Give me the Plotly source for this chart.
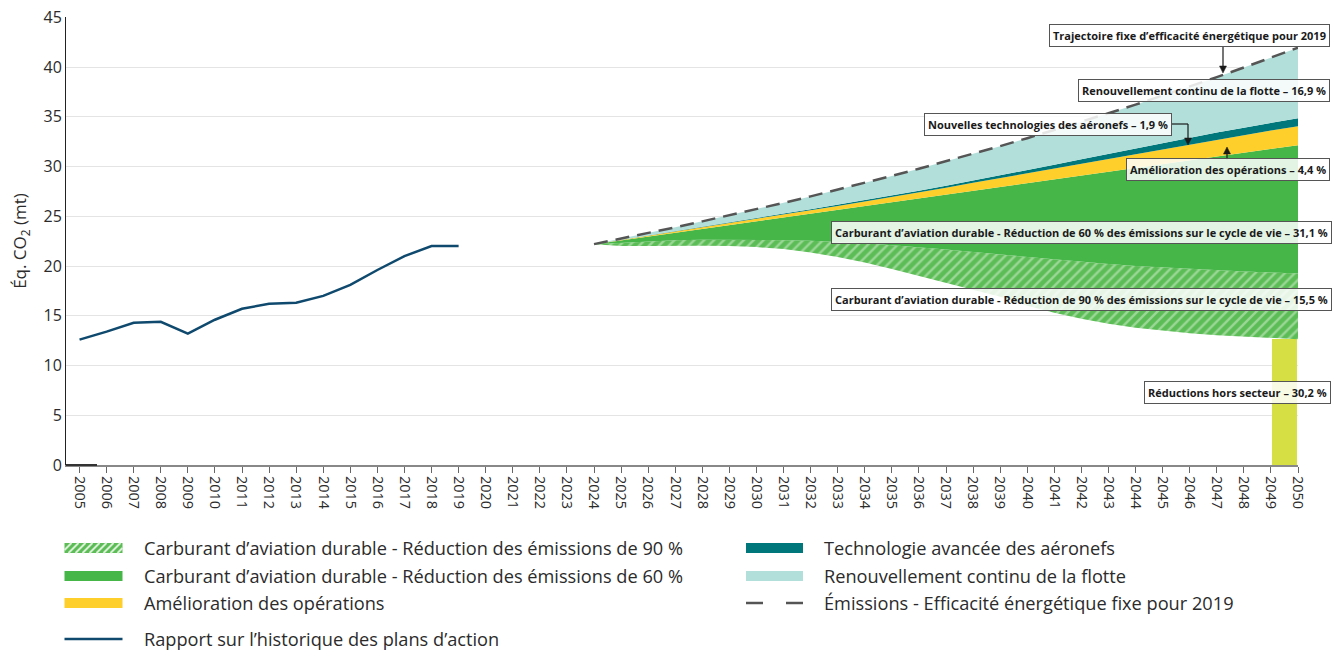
import plotly.graph_objects as go

# ---------------- data ----------------
hist_years = list(range(2005, 2020))
hist_values = [12.6, 13.4, 14.3, 14.4, 13.2, 14.6, 15.7, 16.2, 16.3, 17.0,
               18.1, 19.6, 21.0, 22.0, 22.0]

proj_years = list(range(2024, 2051))
net_emissions = [22.2, 22.0, 22.0, 22.05, 22.05, 22.0, 21.9, 21.7, 21.35, 20.9,
                 20.35, 19.7, 19.0, 18.3, 17.6, 16.9, 16.0, 15.3, 14.7, 14.2,
                 13.8, 13.5, 13.25, 13.05, 12.9, 12.75, 12.65]
saf90_top = [22.2, 22.35, 22.5, 22.6, 22.65, 22.65, 22.65, 22.6, 22.55, 22.45,
             22.3, 22.1, 21.9, 21.65, 21.4, 21.15, 20.9, 20.65, 20.4, 20.2,
             20.0, 19.85, 19.7, 19.55, 19.45, 19.35, 19.25]
saf60_top = [22.2, 22.58, 22.97, 23.35, 23.73, 24.11, 24.5, 24.88, 25.26, 25.64,
             26.03, 26.41, 26.79, 27.17, 27.56, 27.94, 28.32, 28.71, 29.09, 29.47,
             29.85, 30.24, 30.62, 31.0, 31.38, 31.77, 32.15]
ops_top = [22.2, 22.62, 23.05, 23.47, 23.89, 24.31, 24.75, 25.18, 25.61, 26.04,
           26.48, 26.93, 27.39, 27.87, 28.36, 28.84, 29.32, 29.81, 30.29, 30.77,
           31.25, 31.74, 32.22, 32.7, 33.16, 33.62, 34.05]
tech_top = [22.2, 22.63, 23.07, 23.5, 23.94, 24.37, 24.83, 25.27, 25.71, 26.16,
            26.61, 27.08, 27.56, 28.07, 28.58, 29.09, 29.62, 30.17, 30.72, 31.27,
            31.81, 32.36, 32.9, 33.42, 33.91, 34.4, 34.85]
baseline_2019 = [22.2, 22.75, 23.32, 23.89, 24.49, 25.09, 25.72, 26.35, 27.0, 27.67,
                 28.36, 29.06, 29.78, 30.52, 31.28, 32.05, 32.85, 33.66, 34.49, 35.35,
                 36.22, 37.12, 38.04, 38.98, 39.95, 40.94, 41.95]

offsector_years = [2050]
offsector_values = [12.65]

tick_years = list(range(2005, 2051))
tick_labels = [str(y) for y in tick_years]
y_ticks = [0, 5, 10, 15, 20, 25, 30, 35, 40, 45]

legend_left = [
    "Carburant d’aviation durable - Réduction des émissions de 90 %",
    "Carburant d’aviation durable - Réduction des émissions de 60 %",
    "Amélioration des opérations",
    "Rapport sur l’historique des plans d’action",
]
legend_right = [
    "Technologie avancée des aéronefs",
    "Renouvellement continu de la flotte",
    "Émissions - Efficacité énergétique fixe pour 2019",
]

# ---------------- style ----------------
FONT = "Open Sans"
C_GREEN = "#47b649"
C_HATCH_BG = "#5cbd56"
C_HATCH_FG = "#d9f0d6"
C_YELLOW = "#fece2b"
C_TEAL = "#00777a"
C_LTEAL = "#b3dfda"
C_BAR = "#d6df43"
C_HIST = "#0f4a6e"
C_DASH = "#555555"
C_TEXT = "#2b2b2b"
C_ARROW = "#1a1a1a"

# page body margin is removed by the post script, so page pixels = figure pixels
W, H = 1336, 653
PL, PR, PT, PB = 66, 1298, 17, 465      # plot area in page pixels
XR = (2004.5, 2050.0)
YR = (0, 45.03)


def PX(px):
    return (px - PL) / (PR - PL)


def PY(py):
    return (PB - py) / (PB - PT)


fig = go.Figure()

# invisible base (net emissions)
fig.add_trace(go.Scatter(x=proj_years, y=net_emissions, mode="lines",
                         line=dict(width=0, color="rgba(0,0,0,0)"),
                         showlegend=False, hoverinfo="skip"))
fig.add_trace(go.Scatter(x=proj_years, y=saf90_top, mode="lines", fill="tonexty",
                         line=dict(width=0, color=C_HATCH_BG),
                         fillcolor=C_HATCH_BG,
                         fillpattern=dict(shape="/", bgcolor=C_HATCH_BG, fgcolor=C_HATCH_FG,
                                          size=7, solidity=0.35),
                         showlegend=False, hoverinfo="skip"))
fig.add_trace(go.Scatter(x=proj_years, y=saf60_top, mode="lines", fill="tonexty",
                         line=dict(width=0, color=C_GREEN), fillcolor=C_GREEN,
                         showlegend=False, hoverinfo="skip"))
fig.add_trace(go.Scatter(x=proj_years, y=ops_top, mode="lines", fill="tonexty",
                         line=dict(width=0, color=C_YELLOW), fillcolor=C_YELLOW,
                         showlegend=False, hoverinfo="skip"))
fig.add_trace(go.Scatter(x=proj_years, y=tech_top, mode="lines", fill="tonexty",
                         line=dict(width=0, color=C_TEAL), fillcolor=C_TEAL,
                         showlegend=False, hoverinfo="skip"))
fig.add_trace(go.Scatter(x=proj_years, y=baseline_2019, mode="lines", fill="tonexty",
                         fillcolor=C_LTEAL,
                         line=dict(width=2.5, color=C_DASH, dash="14px,8px"),
                         showlegend=False, hoverinfo="skip"))

# off-sector reductions bar (sits in the last year interval)
fig.add_trace(go.Bar(x=offsector_years, y=offsector_values, width=0.92, offset=-0.96,
                     marker=dict(color=C_BAR, line=dict(width=0)),
                     showlegend=False, hoverinfo="skip"))

# historic line
fig.add_trace(go.Scatter(x=hist_years, y=hist_values, mode="lines",
                         line=dict(width=2.5, color=C_HIST),
                         showlegend=False, hoverinfo="skip"))

shapes = []
annotations = []

# ---------- chart labels ----------
labels = [
    ("Trajectoire fixe d’efficacité énergétique pour 2019", 1330, 35.5),
    ("Renouvellement continu de la flotte – 16,9 %", 1330, 91),
    ("Nouvelles technologies des aéronefs – 1,9 %", 1172, 124),
    ("Amélioration des opérations – 4,4 %", 1330, 170),
    ("Carburant d’aviation durable - Réduction de 60 % des émissions sur le cycle de vie – 31,1 %", 1332, 232),
    ("Carburant d’aviation durable - Réduction de 90 % des émissions sur le cycle de vie – 15,5 %", 1332, 299),
    ("Réductions hors secteur – 30,2 %", 1331, 392),
]
for txt, xr, yc in labels:
    annotations.append(dict(
        text="<b>" + txt + "</b>", xref="paper", yref="paper", x=PX(xr), y=PY(yc),
        xanchor="right", yanchor="middle", showarrow=False,
        font=dict(family=FONT, size=11, color="#1a1a1a"),
        bgcolor="rgba(255,255,255,0.85)", bordercolor="#555555", borderwidth=1,
        borderpad=3))


def add_line(x0, y0, x1, y1, color=C_ARROW, width=1.2):
    shapes.append(dict(type="line", xref="paper", yref="paper",
                       x0=PX(x0), y0=PY(y0), x1=PX(x1), y1=PY(y1),
                       line=dict(color=color, width=width)))


def add_head(x, y, direction):
    # small filled triangle; direction +1 points down, -1 points up (page pixels)
    hl, hw = 7, 3.5
    yb = y - direction * hl
    path = "M {:.6f},{:.6f} L {:.6f},{:.6f} L {:.6f},{:.6f} Z".format(
        PX(x - hw), PY(yb), PX(x + hw), PY(yb), PX(x), PY(y))
    shapes.append(dict(type="path", xref="paper", yref="paper", path=path,
                       fillcolor=C_ARROW, line=dict(color=C_ARROW, width=0.5)))


# arrows (label callouts)
add_line(1223, 47, 1223, 68)
add_head(1223, 73, +1)
add_line(1172, 124, 1188, 124)
add_line(1188, 124, 1188, 139)
add_head(1188, 145, +1)
add_line(1227, 160, 1227, 153)
add_head(1227, 147, -1)

# dark base segment on the axis at the start of the series
add_line(66, 465, 97, 465, color="#333333", width=2)

# ---------- custom legend ----------
SW0, SW1 = 64.5, 122.5
SW2, SW3 = 746, 803
rows_left = [548, 576, 603, 639]
rows_right = [548, 576, 603]
TX_L, TX_R = 142, 822

# hatched swatch
y0s, y1s = rows_left[0] - 5, rows_left[0] + 5
shapes.append(dict(type="rect", xref="paper", yref="paper", x0=PX(SW0), x1=PX(SW1),
                   y0=PY(y1s), y1=PY(y0s), fillcolor=C_HATCH_BG, line=dict(width=0)))
hs = 7.0
k = SW0 - 10
while k < SW1:
    xs, xe = max(k, SW0), min(k + 10, SW1)
    if xe > xs:
        add_line(xs, y1s - (xs - k), xe, y1s - (xe - k), color=C_HATCH_FG, width=2)
    k += hs

for yc, col in [(rows_left[1], C_GREEN), (rows_left[2], C_YELLOW)]:
    shapes.append(dict(type="rect", xref="paper", yref="paper", x0=PX(SW0), x1=PX(SW1),
                       y0=PY(yc + 5), y1=PY(yc - 5), fillcolor=col, line=dict(width=0)))
add_line(SW0, rows_left[3], SW1, rows_left[3], color=C_HIST, width=2.5)

for yc, col in [(rows_right[0], C_TEAL), (rows_right[1], C_LTEAL)]:
    shapes.append(dict(type="rect", xref="paper", yref="paper", x0=PX(SW2), x1=PX(SW3),
                       y0=PY(yc + 5), y1=PY(yc - 5), fillcolor=col, line=dict(width=0)))
for a, b in [(SW2, SW2 + 17), (SW3 - 17, SW3)]:
    add_line(a, rows_right[2], b, rows_right[2], color=C_DASH, width=2.5)

for txt, yc in zip(legend_left, rows_left):
    annotations.append(dict(text=txt, xref="paper", yref="paper", x=PX(TX_L), y=PY(yc),
                            xanchor="left", yanchor="middle", showarrow=False,
                            font=dict(family=FONT, size=18.2, color=C_TEXT)))
for txt, yc in zip(legend_right, rows_right):
    annotations.append(dict(text=txt, xref="paper", yref="paper", x=PX(TX_R), y=PY(yc),
                            xanchor="left", yanchor="middle", showarrow=False,
                            font=dict(family=FONT, size=18.2, color=C_TEXT)))

fig.update_layout(
    width=W, height=H,
    margin=dict(l=PL, r=W - PR, t=PT, b=H - PB, pad=0),
    paper_bgcolor="white", plot_bgcolor="white",
    showlegend=False,
    font=dict(family=FONT, color=C_TEXT),
    shapes=shapes, annotations=annotations,
    bargap=0,
    xaxis=dict(range=list(XR), tickmode="array", tickvals=tick_years, ticktext=tick_labels,
               tickangle=90, ticks="outside", ticklen=6, tickcolor="#666666", tickwidth=1,
               showline=True, linecolor="#888888", linewidth=2, showgrid=False, zeroline=False,
               tickfont=dict(family=FONT, size=14.5, color=C_TEXT), automargin=False),
    yaxis=dict(range=list(YR), tickmode="array", tickvals=y_ticks,
               showline=True, linecolor="#222222", linewidth=1,
               showgrid=True, gridcolor="#e4e4e4", gridwidth=1, zeroline=False,
               ticks="", tickfont=dict(family=FONT, size=16, color=C_TEXT),
               ticklabeloverflow="allow",
               title=dict(text="Éq. CO<sub>2</sub> (mt)", font=dict(family=FONT, size=17, color=C_TEXT),
                          standoff=12),
               automargin=False),
)

fig.write_html("out.html",
               config={"displayModeBar": False},
               post_script="document.body.style.margin='0';document.body.style.padding='0';")
